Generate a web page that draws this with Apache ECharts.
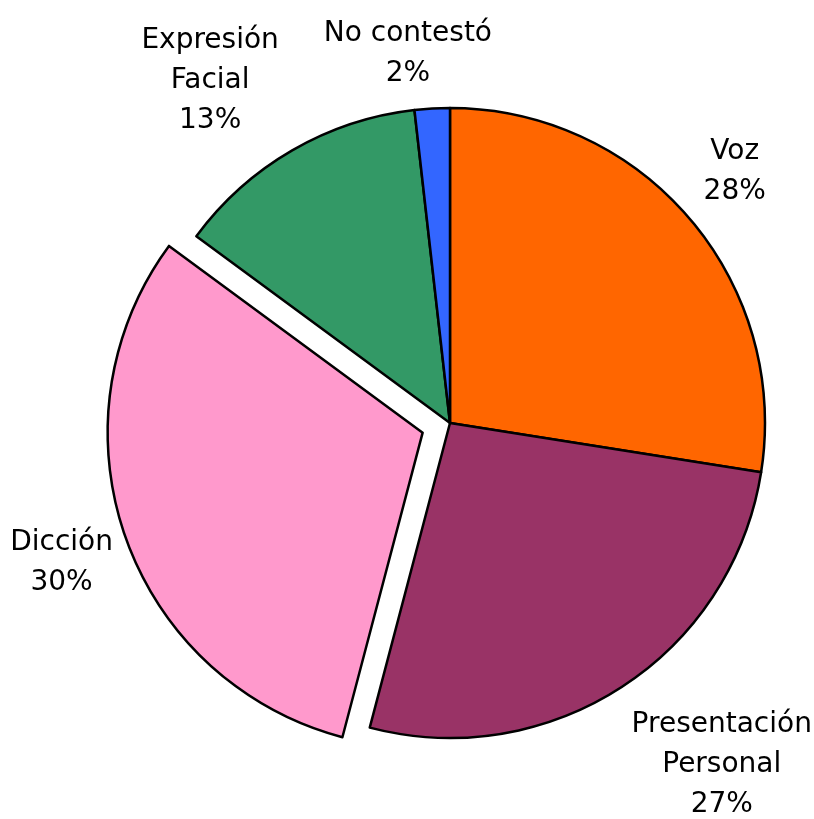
<!DOCTYPE html>
<html>
<head>
<meta charset="utf-8">
<script src="https://cdn.jsdelivr.net/npm/echarts@6/dist/echarts.min.js"></script>
<style>
  html, body { margin: 0; padding: 0; background: #ffffff; }
  #chart { width: 814px; height: 819px; }
</style>
</head>
<body>
<div id="chart"></div>
<script>
// categorias (en orden horario desde arriba)
const categories = ['Voz', 'Presentación\nPersonal', 'Dicción', 'Expresión\nFacial', 'No contestó'];
// porcentajes
const values = [27.5, 26.6, 31.0, 13.1, 1.8];
// etiquetas de porcentaje tal como aparecen
const pctLabels = ['28%', '27%', '30%', '13%', '2%'];
// colores de cada sector
const colors = ['#FF6600', '#993366', '#FF99CC', '#339966', '#3366FF'];
// distancia de la etiqueta al borde y ajuste fino
const labelLengths = [66, 100, 70, 104, 58];
const labelNudge = [[-5, -4], [45, -6], [2, 2], [-30, 20], [-21, 3]];

const chartDom = document.getElementById('chart');
const myChart = echarts.init(chartDom);

const seriesData = categories.map((name, i) => ({
  name: name,
  value: values[i],
  selected: name === 'Dicción',
  itemStyle: { color: colors[i] },
  labelLine: { show: false, length: labelLengths[i], length2: 0 },
}));

const option = {
  backgroundColor: '#FFFFFF',
  animation: false,
  series: [
    {
      type: 'pie',
      center: [450, 423],
      radius: 315,
      startAngle: 90,
      clockwise: true,
      selectedMode: 'single',
      selectedOffset: 29,
      avoidLabelOverlap: false,
      emphasis: { disabled: true },
      itemStyle: {
        borderColor: '#000000',
        borderWidth: 2.5,
      },
      label: {
        show: true,
        position: 'outside',
        distanceToLabelLine: 0,
        formatter: (p) => p.name + '\n' + pctLabels[p.dataIndex],
        fontFamily: '"DejaVu Sans"',
        fontSize: 28,
        lineHeight: 40,
        color: '#000000',
      },
      labelLine: { show: false },
      labelLayout: (p) => ({
        align: 'center',
        verticalAlign: 'middle',
        dx: labelNudge[p.dataIndex][0],
        dy: labelNudge[p.dataIndex][1],
      }),
      data: seriesData,
    },
  ],
};
myChart.setOption(option);
</script>
</body>
</html>
